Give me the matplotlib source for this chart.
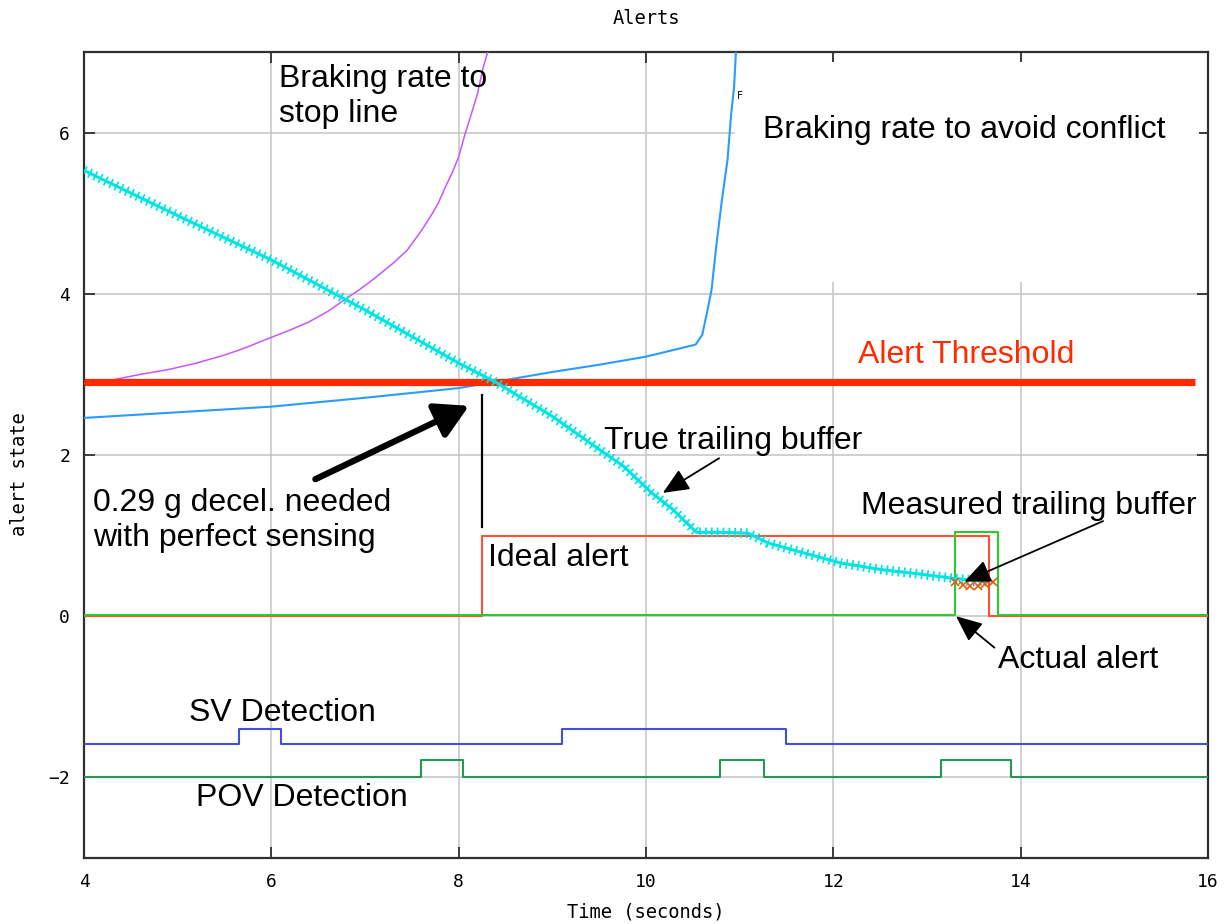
import matplotlib
matplotlib.use("Agg")
import matplotlib.pyplot as plt
from matplotlib.patches import Rectangle

# ---------------- data ----------------
# Braking rate to stop line (magenta)
stop_t = [4.0, 4.3, 4.6, 4.9, 5.2, 5.5, 5.7, 6.0, 6.2, 6.4, 6.6, 6.8, 6.95, 7.1, 7.3,
          7.45, 7.6, 7.7, 7.78, 7.86, 7.93, 8.0, 8.07, 8.14, 8.2, 8.26, 8.31]
stop_v = [2.89, 2.93, 3.0, 3.06, 3.14, 3.24, 3.32, 3.46, 3.55, 3.65, 3.78, 3.94, 4.06,
          4.19, 4.38, 4.54, 4.78, 4.96, 5.12, 5.33, 5.50, 5.70, 5.99, 6.25, 6.48, 6.80, 7.0]

# Braking rate to avoid conflict (blue)
avoid_t = [4.0, 5.0, 6.0, 7.0, 8.0, 8.5, 9.0, 9.5, 10.0, 10.53, 10.6, 10.65, 10.7,
           10.75, 10.81, 10.87, 10.91, 10.94, 10.96]
avoid_v = [2.46, 2.53, 2.60, 2.71, 2.83, 2.93, 3.03, 3.12, 3.22, 3.37, 3.49, 3.76, 4.05,
           4.59, 5.16, 5.66, 6.24, 6.56, 7.0]

# True trailing buffer (cyan)
true_t = [4.0, 5.0, 6.0, 7.0, 8.0, 8.4, 9.0, 9.5, 9.76, 10.06, 10.28, 10.54, 10.8,
          11.09, 11.3, 11.73, 12.08, 12.5, 12.94, 13.28, 13.63]
true_v = [5.53, 4.97, 4.42, 3.80, 3.14, 2.90, 2.48, 2.07, 1.86, 1.53, 1.33, 1.04, 1.04,
          1.03, 0.91, 0.77, 0.66, 0.58, 0.52, 0.47, 0.43]

# Measured trailing buffer (orange)
meas_t = [13.30, 13.38, 13.46, 13.54, 13.62, 13.70]
meas_v = [0.42, 0.39, 0.38, 0.38, 0.40, 0.42]

# Alert threshold
threshold = 2.9
threshold_span = [4.0, 15.86]

# Ideal alert (red step)
ideal_t = [4.0, 8.25, 13.66, 16.0]
ideal_v = [0.0, 1.0, 0.0, 0.0]

# Actual alert (green step)
actual_t = [4.0, 13.30, 13.76, 16.0]
actual_v = [0.02, 1.04, 0.02, 0.02]

# SV detection
sv_t = [4.0, 5.65, 6.10, 9.10, 11.50, 16.0]
sv_v = [-1.58, -1.40, -1.58, -1.40, -1.58, -1.58]

# POV detection
pov_t = [4.0, 7.60, 8.05, 10.79, 11.26, 13.15, 13.90, 16.0]
pov_v = [-2.0, -1.79, -2.0, -1.79, -2.0, -1.79, -2.0, -2.0]

x_ticks = [4, 6, 8, 10, 12, 14, 16]
y_ticks = [-2, 0, 2, 4, 6]

# ---------------- figure ----------------
fig = plt.figure(figsize=(12.32, 9.24), dpi=100)
ax = fig.add_axes([84 / 1232, 1 - 858 / 924, 1124 / 1232, 806 / 924])
ax.set_xlim(4, 16)
ax.set_ylim(-3, 7)
ax.set_axisbelow(True)
ax.grid(True, color="#c4c4c4", linewidth=1.1)
ax.add_patch(Rectangle((10.95, 4.15), 15.9 - 10.95, 6.88 - 4.15, facecolor="white",
                       edgecolor="none", zorder=0.7))

mono = "DejaVu Sans Mono"
ax.set_xticks(x_ticks)
ax.set_yticks(y_ticks)
ax.set_xticklabels([str(v) for v in x_ticks], family=mono, fontsize=13)
ax.set_yticklabels([str(v).replace("-", "\u2212") for v in y_ticks], family=mono, fontsize=13)
ax.tick_params(direction="in", length=8, width=1.3, top=True, right=True, color="#303030")
ax.tick_params(axis="x", pad=11)
ax.tick_params(axis="y", pad=10)
for sp in ax.spines.values():
    sp.set_linewidth(1.6)
    sp.set_color("#303030")

# lines
ax.plot(stop_t, stop_v, color="#c855ff", lw=1.1, zorder=3)
ax.plot(avoid_t, avoid_v, color="#2a9cff", lw=1.5, zorder=3)
ax.plot(true_t, true_v, color="#00e4e4", lw=2.2, zorder=4)
ax.plot(true_t, true_v, color="#00e4e4", lw=7.0, dashes=(0.18, 0.42),
        solid_capstyle="butt", dash_capstyle="butt", zorder=4)
ax.plot(threshold_span, [threshold, threshold], color="#ff2a00", lw=5.2, zorder=3,
        solid_capstyle="butt")
ax.plot(ideal_t, ideal_v, drawstyle="steps-post", color="#ff5035", lw=1.5, zorder=3)
ax.plot(actual_t, actual_v, drawstyle="steps-post", color="#30c830", lw=1.5, zorder=3)
ax.plot(sv_t, sv_v, drawstyle="steps-post", color="#4050dc", lw=1.5, zorder=3)
ax.plot(pov_t, pov_v, drawstyle="steps-post", color="#1f9a55", lw=1.5, zorder=3)
ax.plot(meas_t, meas_v, color="#e0600f", lw=1.0, ls=":", marker="x", ms=6, mew=1.2, zorder=5)

# annotations
txt = dict(family="Liberation Sans", fontsize=23, va="baseline", ha="left", zorder=6)
ax.text(6.08, 6.57, "Braking rate to", **txt)
ax.text(6.08, 6.13, "stop line", **txt)
ax.text(11.25, 5.93, "Braking rate to avoid conflict", **txt)
ax.text(12.26, 3.14, "Alert Threshold", color="#ff2a00", **txt)
ax.text(9.55, 2.07, "True trailing buffer", **txt)
ax.text(4.10, 1.31, "0.29 g decel. needed", **txt)
ax.text(4.10, 0.87, "with perfect sensing", **txt)
ax.text(8.31, 0.62, "Ideal alert", **txt)
ax.text(12.30, 1.27, "Measured trailing buffer", **txt)
ax.text(13.76, -0.64, "Actual alert", **txt)
ax.text(5.12, -1.30, "SV Detection", **txt)
ax.text(5.20, -2.35, "POV Detection", **txt)
ax.text(10.975, 6.45, "F", family=mono, fontsize=7, ha="left", va="center", zorder=6)

ax.annotate("", xy=(8.11, 2.61), xytext=(6.47, 1.70),
            arrowprops=dict(arrowstyle="-|>,head_length=0.8,head_width=0.45",
                            lw=4.5, color="black", mutation_scale=25, shrinkA=0, shrinkB=0),
            zorder=7)
ax.plot([8.245, 8.245], [2.75, 1.11], color="black", lw=1.6, zorder=6)
thin = dict(arrowstyle="-|>,head_length=0.8,head_width=0.35", lw=1.3, color="black",
            mutation_scale=20, shrinkA=0, shrinkB=0)
ax.annotate("", xy=(10.18, 1.53), xytext=(10.78, 1.96), arrowprops=thin, zorder=7)
ax.annotate("", xy=(13.40, 0.43), xytext=(14.88, 1.18), arrowprops=thin, zorder=7)
ax.annotate("", xy=(13.31, 0.0), xytext=(13.72, -0.39), arrowprops=thin, zorder=7)

# title and axis labels
fig.text(646 / 1232, 1 - 18 / 924, "Alerts", family=mono, fontsize=13.5, ha="center", va="center")
fig.text(646 / 1232, 1 - 912 / 924, "Time (seconds)", family=mono, fontsize=13.5,
         ha="center", va="center")
fig.text(20 / 1232, 1 - 474 / 924, "alert state", family=mono, fontsize=13.5, rotation=90,
         ha="center", va="center")

fig.savefig("out.png", dpi=100)
